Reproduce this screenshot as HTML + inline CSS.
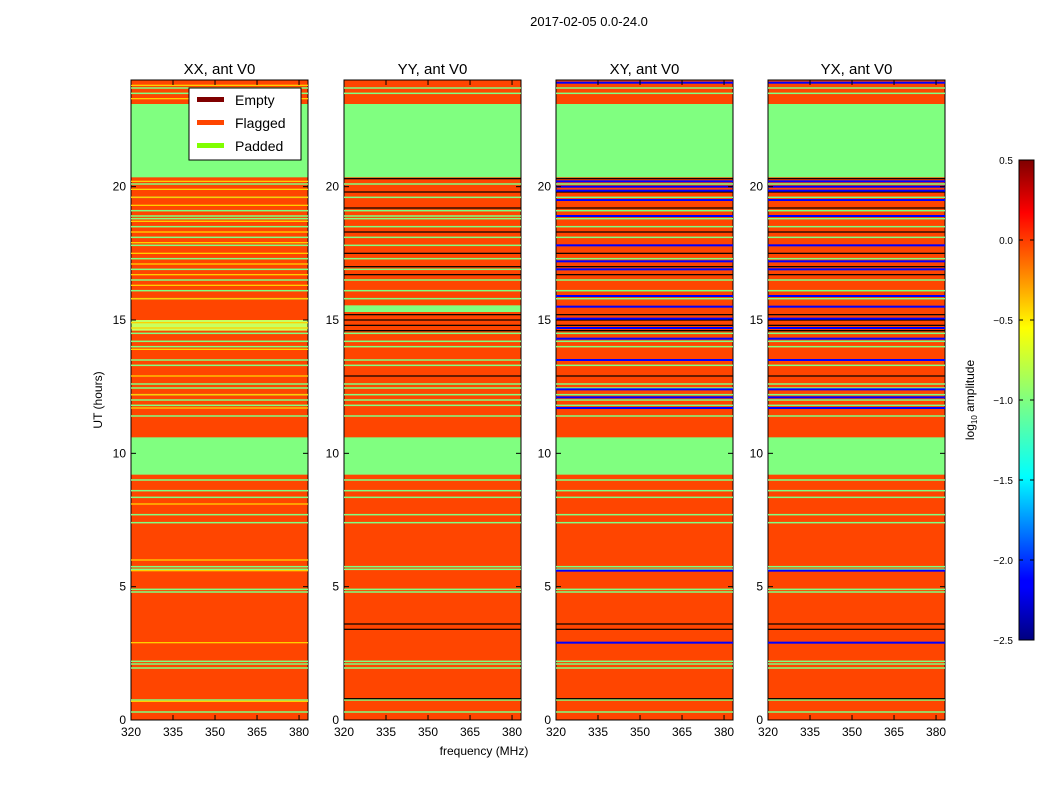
<!DOCTYPE html>
<html><head><meta charset="utf-8"><style>
body{margin:0;background:#fff;font-family:"Liberation Sans","DejaVu Sans",sans-serif}
svg text{font-family:"Liberation Sans","DejaVu Sans",sans-serif}
</style></head><body>
<svg id="c" width="1050" height="800" xmlns="http://www.w3.org/2000/svg"></svg>
<script>
const panels=["XX, ant V0","YY, ant V0","XY, ant V0","YX, ant V0"];
const panelX=[131,344,556,768];
const freqTicks=[320,335,350,365,380];
const hourTicks=[0,5,10,15,20];
const cbTicks=[0.5,0.0,-0.5,-1.0,-1.5,-2.0,-2.5];
const greenBands=[[20.35,23.1],[9.2,10.6]];
const yyGreenBands=[[15.3,15.55]];
const greenLines=[0.3,0.75,1.95,2.1,2.2,4.8,4.9,5.65,5.75,7.4,7.7,8.35,8.6,9.0,11.4,11.8,12.0,12.2,12.45,12.6,13.3,13.5,14.0,14.2,14.5,15.8,16.1,16.5,16.9,17.3,17.8,18.1,18.5,18.8,18.9,19.1,19.6,20.1,23.5,23.7];
const blackLines=[0.8,3.4,3.6,12.9,14.6,14.8,15.0,15.2,16.7,17.0,17.5,18.3,19.2,19.8,20.3];
const blueLines=[2.9,5.6,11.7,12.1,12.4,13.5,14.3,14.7,15.05,15.5,15.9,16.9,17.2,17.8,18.9,19.5,19.85,20.0,20.2,23.9];
const yellowLines=[0.7,2.9,5.6,6.0,8.1,11.7,12.2,12.9,13.9,14.7,14.9,15.8,16.3,16.7,17.1,17.5,17.9,18.3,18.7,19.3,19.6,19.9,20.2,23.3,23.8];
const NS="http://www.w3.org/2000/svg",svg=document.getElementById('c');
const W=177,Y0=720,Y1=80,F0=320,F1=383.2;
const y=h=>Y0-(h/24)*(Y0-Y1);
const x=(p,f)=>panelX[p]+(f-F0)/(F1-F0)*W;
function el(t,a,parent){const e=document.createElementNS(NS,t);for(const k in a)e.setAttribute(k,a[k]);(parent||svg).appendChild(e);return e;}
function txt(s,a){const e=el('text',a);e.textContent=s;return e;}
const t0=txt("2017-02-05 0.0-24.0",{x:589,y:26,'text-anchor':'middle','font-size':13});

function line(p,h,c,w){el('rect',{x:panelX[p],y:y(h)-w/2,width:W,height:w,fill:c});}
panels.forEach((name,p)=>{
  const g=el('g',{});
  
  
  el('rect',{x:panelX[p],y:Y1,width:W,height:Y0-Y1,fill:'#ff4500'},g);
  greenBands.forEach(b=>el('rect',{x:panelX[p],y:y(b[1]),width:W,height:y(b[0])-y(b[1]),fill:'#80ff80'},g));
  if(p==1)yyGreenBands.forEach(b=>el('rect',{x:panelX[p],y:y(b[1]),width:W,height:y(b[0])-y(b[1]),fill:'#80ff80'},g));
  if(p==0)el('rect',{x:panelX[p],y:y(15.0),width:W,height:y(14.6)-y(15.0),fill:'#c8ff60'},g);
  greenLines.forEach(h=>line(p,h,'#80ff80',1.5));
  if(p==0)yellowLines.forEach(h=>line(p,h,'#ffd000',1.3));
  if(p>0)blackLines.forEach(h=>line(p,h,'#000',1.2));
  if(p>=2)blueLines.forEach(h=>line(p,h,'#0000ff',2));
  el('rect',{x:panelX[p],y:Y1,width:W,height:Y0-Y1,fill:'none',stroke:'#000','stroke-width':1},g);
  const tt=txt(name,{x:panelX[p]+W/2,y:74,'text-anchor':'middle','font-size':15});
  
  freqTicks.forEach(f=>{const X=x(p,f);
    el('line',{x1:X,x2:X,y1:Y0,y2:Y0-5,stroke:'#000'});el('line',{x1:X,x2:X,y1:Y1,y2:Y1+5,stroke:'#000'});
    const l=txt(f,{x:X,y:736,'text-anchor':'middle','font-size':12});
    });
  hourTicks.forEach(h=>{const Y=y(h);
    el('line',{x1:panelX[p],x2:panelX[p]+5,y1:Y,y2:Y,stroke:'#000'});el('line',{x1:panelX[p]+W,x2:panelX[p]+W-5,y1:Y,y2:Y,stroke:'#000'});
    const l=txt(h,{x:panelX[p]-5,y:Y+4,'text-anchor':'end','font-size':12});
    });
});
const yl=txt("UT (hours)",{x:0,y:0,'text-anchor':'middle','font-size':12,transform:'translate(102,400) rotate(-90)'});

const xl=txt("frequency (MHz)",{x:484,y:755,'text-anchor':'middle','font-size':12});

const lg=el('g',{});

el('rect',{x:189,y:88,width:112,height:72,fill:'#fff',stroke:'#000'},lg);
[["Empty","#800000"],["Flagged","#ff4500"],["Padded","#80ff00"]].forEach((e,i)=>{
  el('rect',{x:197,y:97+i*23,width:27,height:5,fill:e[1]},lg);
  const l=txt(e[0],{x:235,y:105+i*23,'font-size':14});
  
});
const defs=el('defs',{});
const gr=el('linearGradient',{id:'jet',x1:0,y1:1,x2:0,y2:0},defs);
[['0','#00007f'],['0.11','#0000ff'],['0.125','#0000ff'],['0.34','#00ffff'],['0.5','#80ff80'],['0.65','#ffff00'],['0.89','#ff0000'],['1','#7f0000']].forEach(s=>el('stop',{offset:s[0],'stop-color':s[1]},gr));
const cb=el('rect',{x:1019,y:160,width:15,height:480,fill:'url(#jet)',stroke:'#000'});

cbTicks.forEach(v=>{const Y=160+(0.5-v)/3*480;
  el('line',{x1:1019,x2:1023,y1:Y,y2:Y,stroke:'#000'});el('line',{x1:1034,x2:1030,y1:Y,y2:Y,stroke:'#000'});
  const l=txt(v.toFixed(1).replace('-','\u2212'),{x:1013,y:Y+4,'text-anchor':'end','font-size':10});
  });
const cl=el('text',{x:0,y:0,'text-anchor':'middle','font-size':12,transform:'translate(974,400) rotate(-90)'});
cl.innerHTML='log<tspan font-size="8" dy="3">10</tspan><tspan dy="-3"> amplitude</tspan>';

</script>
</body></html>
